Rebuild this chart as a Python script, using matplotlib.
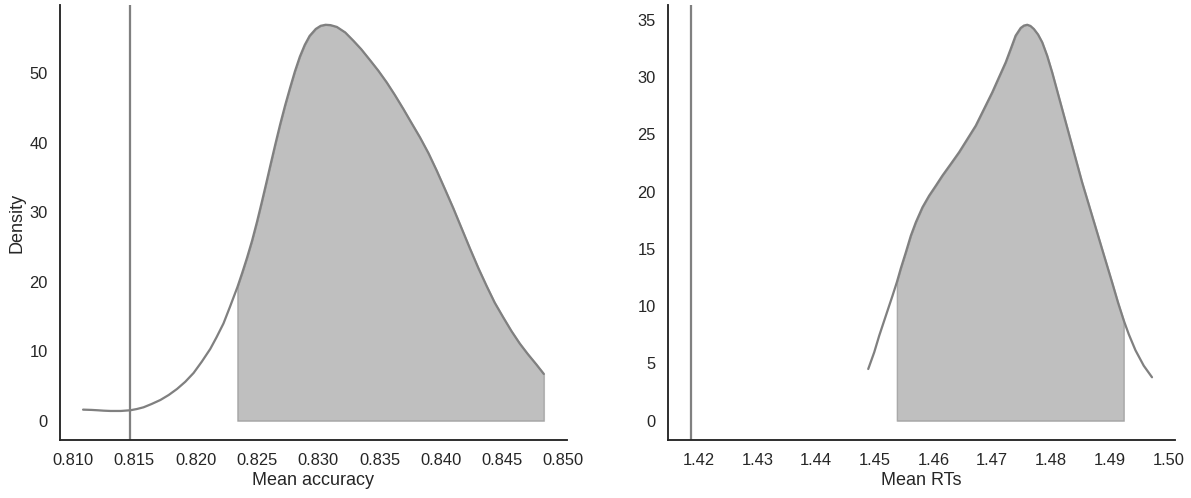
import numpy as np
import matplotlib
matplotlib.use("Agg")
import matplotlib.pyplot as plt
import seaborn as sns

# density curve (mean accuracy)
acc_x = [0.81081, 0.81150, 0.81200, 0.81250, 0.81304, 0.81390, 0.81467, 0.81520,
         0.81575, 0.81640, 0.81712, 0.81780, 0.81848, 0.81915, 0.81983, 0.82050,
         0.82119, 0.82170, 0.82227, 0.82280, 0.82340, 0.82380, 0.82418, 0.82460,
         0.82500, 0.82540, 0.82580, 0.82610, 0.82650, 0.82690, 0.82730, 0.82770,
         0.82810, 0.82850, 0.82890, 0.82930, 0.82980, 0.83020, 0.83060, 0.83100,
         0.83152, 0.83220, 0.83287, 0.83350, 0.83423, 0.83490, 0.83559, 0.83625,
         0.83694, 0.83760, 0.83830, 0.83900, 0.83967, 0.84035, 0.84102, 0.84170,
         0.84238, 0.84306, 0.84374, 0.84440, 0.84509, 0.84577, 0.84645, 0.84710,
         0.84780, 0.84841]
acc_y = [1.59, 1.55, 1.50, 1.44, 1.40, 1.40, 1.50, 1.68,
         1.93, 2.40, 2.98, 3.70, 4.57, 5.60, 6.87, 8.50,
         10.33, 12.00, 14.00, 16.40, 19.20, 21.30, 23.40, 25.90,
         28.60, 31.50, 34.50, 36.80, 39.80, 42.70, 45.40, 47.90,
         50.30, 52.40, 54.10, 55.40, 56.40, 56.85, 57.00, 56.95,
         56.69, 55.90, 54.70, 53.50, 51.90, 50.40, 48.70, 46.90,
         44.90, 42.90, 40.80, 38.50, 36.00, 33.30, 30.60, 27.70,
         24.80, 22.00, 19.40, 17.00, 14.90, 12.90, 11.10, 9.60,
         8.10, 6.73]
acc_ci = [0.82340, 0.84841]
acc_obs = 0.81467

# density curve (mean RTs)
rt_x = [1.44889, 1.44991, 1.45076, 1.45161, 1.45246, 1.45302, 1.45376, 1.45444,
        1.45529, 1.45614, 1.45699, 1.45812, 1.45925, 1.46039, 1.46151, 1.46294,
        1.46435, 1.46577, 1.46719, 1.46860, 1.47001, 1.47115, 1.47229, 1.47314,
        1.47398, 1.47484, 1.47540, 1.47596, 1.47650, 1.47709, 1.47780, 1.47851,
        1.47935, 1.48020, 1.48105, 1.48190, 1.48275, 1.48360, 1.48445, 1.48530,
        1.48615, 1.48700, 1.48785, 1.48870, 1.48955, 1.49040, 1.49142, 1.49239,
        1.49324, 1.49438, 1.49579, 1.49720]
rt_y = [4.51, 5.97, 7.42, 8.73, 10.04, 10.90, 12.08, 13.30,
        14.69, 16.14, 17.31, 18.62, 19.63, 20.50, 21.38, 22.40,
        23.42, 24.58, 25.74, 27.20, 28.66, 29.97, 31.27, 32.43,
        33.60, 34.27, 34.48, 34.55, 34.45, 34.18, 33.70, 33.02,
        31.85, 30.40, 28.80, 27.20, 25.60, 24.00, 22.40, 20.80,
        19.35, 17.89, 16.44, 14.98, 13.53, 12.08, 10.30, 8.75,
        7.55, 6.15, 4.80, 3.79]
rt_ci = [1.45376, 1.49239]
rt_obs = 1.41876

sns.set_theme(context="talk", style="white")
plt.rcParams["font.family"] = ["Liberation Sans", "DejaVu Sans"]

fig, ax = plt.subplots(1, 2, figsize=(1191 / 72, 498 / 72), dpi=72)
fig.subplots_adjust(left=0.0504, right=0.9866, bottom=0.1155, top=0.99, wspace=0.2)


def draw_panel(a, xs, ys, ci, obs, xlabel):
    xs = np.array(xs)
    ys = np.array(ys)
    a.plot(xs, ys, color="grey", lw=2.25)
    mask = (xs >= ci[0]) & (xs <= ci[1])
    a.fill_between(xs[mask], 0, ys[mask], color="grey", alpha=0.5)
    a.axvline(obs, color="grey", lw=2.25)
    a.set_xlabel(xlabel)


draw_panel(ax[0], acc_x, acc_y, acc_ci, acc_obs, "Mean accuracy")
ax[0].set_ylabel("Density")
draw_panel(ax[1], rt_x, rt_y, rt_ci, rt_obs, "Mean RTs")
ax[1].set_ylabel("")

sns.despine()
fig.savefig("out.png", dpi=72)
